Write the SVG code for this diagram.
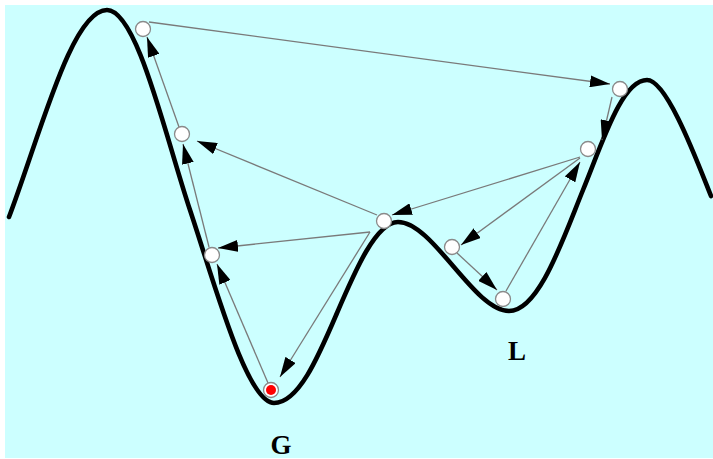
<svg xmlns="http://www.w3.org/2000/svg" width="713" height="459" viewBox="0 0 713 459">
<defs>
<style>
.bg{fill:#ccffff}
.curve{fill:none;stroke:#000;stroke-width:4.6;stroke-linecap:round;stroke-linejoin:round}
.conn{fill:none;stroke:#7a7a7a;stroke-width:1.3}
.arr{marker-end:url(#ah)}
.node{fill:#fff;stroke:#8a8a8a;stroke-width:1.3}
.lbl{font-family:"Liberation Serif","Times New Roman",serif;font-weight:bold;font-size:27px;fill:#000;text-anchor:middle}
</style>
<marker id="ah" viewBox="0 0 20 12" markerWidth="20" markerHeight="12" refX="20" refY="6" orient="auto" markerUnits="userSpaceOnUse">
<path d="M0,0 L20,6 L0,12 z" fill="#000"/>
</marker>
</defs>
<rect class="bg" x="5" y="5" width="708" height="453"/>
<path class="curve" d="M9,217 C41,132 72,10 107,10 C137,10 165,135 190,210 C215,285 247,403 274,403 C299,403 319,355 337,313 C355,271 376,222 398,222 C433,222 474,311 509,311 C539,311 563,239 583,190 C603,141 622,80 647,80 C667,80 697,161 711,196"/>
<g id="connectors">
<line class="conn arr" x1="149" y1="22" x2="610" y2="84"/>
<line class="conn arr" x1="612" y1="97" x2="602" y2="140"/>
<line class="conn arr" x1="580" y1="157" x2="392" y2="215"/>
<line class="conn arr" x1="580" y1="158" x2="461" y2="245"/>
<line class="conn arr" x1="457" y1="253" x2="497" y2="290"/>
<line class="conn arr" x1="506" y1="291" x2="580" y2="162"/>
<line class="conn arr" x1="377" y1="215" x2="197" y2="141"/>
<line class="conn arr" x1="370" y1="232" x2="218" y2="248"/>
<line class="conn arr" x1="370" y1="232" x2="280" y2="377"/>
<line class="conn arr" x1="209" y1="247" x2="183" y2="144"/>
<line class="conn arr" x1="179" y1="127" x2="147" y2="37"/>
<line class="conn arr" x1="268" y1="383" x2="217" y2="264"/>
</g>
<g id="n1"><circle class="node" cx="143" cy="29" r="7.5"/></g>
<g id="n2"><circle class="node" cx="182" cy="134" r="7.5"/></g>
<g id="n3"><circle class="node" cx="212" cy="255" r="7.5"/></g>
<g id="nG"><circle class="node" cx="271" cy="390" r="7.5"/><circle cx="271" cy="390" r="5" fill="#ff0000"/></g>
<g id="n5"><circle class="node" cx="384" cy="221" r="7.5"/></g>
<g id="n6"><circle class="node" cx="452" cy="247" r="7.5"/></g>
<g id="n7"><circle class="node" cx="503" cy="299" r="7.5"/></g>
<g id="n8"><circle class="node" cx="588" cy="149" r="7.5"/></g>
<g id="n9"><circle class="node" cx="620" cy="89" r="7.5"/></g>
<g id="labelG"><text class="lbl" x="281" y="454">G</text></g>
<g id="labelL"><text class="lbl" x="517" y="360">L</text></g>
</svg>
